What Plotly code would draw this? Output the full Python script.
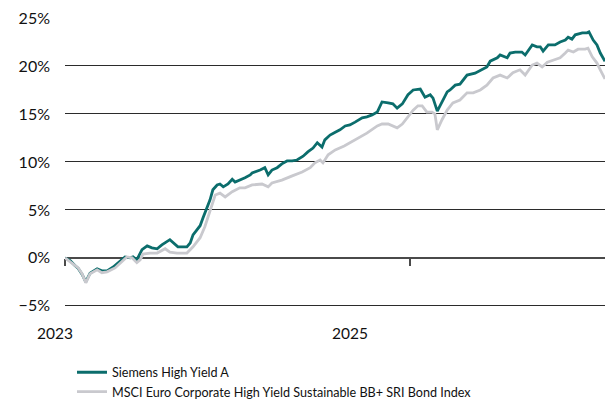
import plotly.graph_objects as go

# Cumulative performance, in percent
fund_name = "Siemens High Yield A"
fund_dates = [
    "2023-01-01", "2023-01-12", "2023-01-22", "2023-01-29", "2023-02-06", "2023-02-14",
    "2023-02-23", "2023-03-06", "2023-03-10", "2023-03-20", "2023-03-31", "2023-04-13",
    "2023-04-27", "2023-05-08", "2023-05-19", "2023-05-25", "2023-06-02", "2023-06-13",
    "2023-06-24", "2023-07-04", "2023-07-15", "2023-07-25", "2023-08-11", "2023-08-22",
    "2023-08-28", "2023-09-16", "2023-09-23", "2023-09-29", "2023-10-14", "2023-10-20",
    "2023-10-29", "2023-11-04", "2023-11-10", "2023-11-19", "2023-11-25", "2023-12-02",
    "2023-12-12", "2023-12-21", "2023-12-27", "2024-01-06", "2024-01-17", "2024-01-28",
    "2024-02-01", "2024-02-18", "2024-02-28", "2024-03-06", "2024-03-14", "2024-03-25",
    "2024-04-04", "2024-04-15", "2024-04-26", "2024-05-06", "2024-05-19", "2024-05-29",
    "2024-06-09", "2024-06-18", "2024-06-28", "2024-07-04", "2024-07-15", "2024-07-26",
    "2024-08-05", "2024-08-16", "2024-08-26", "2024-09-06", "2024-09-21", "2024-10-01",
    "2024-10-12", "2024-10-23", "2024-11-02", "2024-11-15", "2024-11-25", "2024-12-04",
    "2024-12-15", "2024-12-27", "2025-01-07", "2025-01-22", "2025-02-01", "2025-02-12",
    "2025-02-18", "2025-02-27", "2025-03-09", "2025-03-20", "2025-03-26", "2025-04-06",
    "2025-04-16", "2025-05-01", "2025-05-18", "2025-05-24", "2025-06-12", "2025-06-19",
    "2025-07-04", "2025-07-10", "2025-07-25", "2025-07-31", "2025-08-11", "2025-08-25",
    "2025-09-01", "2025-09-16", "2025-09-26", "2025-10-03", "2025-10-09", "2025-10-20",
    "2025-11-03", "2025-11-14", "2025-11-25", "2025-12-01", "2025-12-09", "2025-12-16",
    "2025-12-31", "2026-01-10", "2026-01-14", "2026-01-23", "2026-01-31", "2026-02-07",
    "2026-02-13", "2026-02-17",
]
fund_values = [
    0.0, -0.3, -0.8, -1.1, -1.7, -2.5,
    -1.6, -1.25, -1.15, -1.35, -1.35, -0.95,
    -0.4, 0.1, 0.0, 0.1, -0.2, 0.85,
    1.25, 1.05, 0.95, 1.35, 1.9, 1.45,
    1.15, 1.15, 1.55, 2.4, 3.35, 4.15,
    5.2, 6.05, 7.1, 7.6, 7.7, 7.4,
    7.7, 8.2, 7.9, 8.1, 8.35, 8.65,
    8.85, 9.15, 9.4, 8.65, 9.15, 9.4,
    9.8, 10.1, 10.1, 10.2, 10.6, 11.05,
    11.45, 12.0, 11.55, 12.3, 12.8, 13.1,
    13.35, 13.75, 13.85, 14.15, 14.6, 14.7,
    14.9, 15.2, 16.25, 16.15, 16.05, 15.6,
    16.05, 17.0, 17.5, 17.6, 16.75, 17.0,
    16.65, 15.3, 16.25, 17.3, 17.5, 18.0,
    18.1, 19.05, 19.25, 19.4, 19.9, 20.5,
    20.85, 21.15, 20.85, 21.35, 21.45, 21.45,
    21.15, 22.2, 22.0, 22.0, 21.55, 22.2,
    22.2, 22.5, 22.7, 23.0, 22.8, 23.25,
    23.45, 23.45, 23.55, 22.7, 22.2, 21.35,
    20.85, 20.5,
]

index_name = "MSCI Euro Corporate High Yield Sustainable BB+ SRI Bond Index"
index_dates = [
    "2023-01-01", "2023-01-18", "2023-01-29", "2023-02-06", "2023-02-14", "2023-02-23",
    "2023-03-10", "2023-03-20", "2023-03-31", "2023-04-17", "2023-05-02", "2023-05-12",
    "2023-05-23", "2023-06-02", "2023-06-09", "2023-06-15", "2023-06-30", "2023-07-15",
    "2023-08-01", "2023-08-11", "2023-08-26", "2023-09-16", "2023-09-29", "2023-10-14",
    "2023-10-24", "2023-10-31", "2023-11-08", "2023-11-15", "2023-11-25", "2023-12-06",
    "2023-12-21", "2024-01-06", "2024-01-17", "2024-02-01", "2024-02-22", "2024-03-06",
    "2024-03-14", "2024-04-04", "2024-04-26", "2024-05-17", "2024-06-03", "2024-06-13",
    "2024-06-24", "2024-06-30", "2024-07-11", "2024-07-26", "2024-08-14", "2024-08-26",
    "2024-09-15", "2024-10-01", "2024-10-23", "2024-11-02", "2024-11-15", "2024-12-04",
    "2024-12-15", "2024-12-27", "2025-01-07", "2025-01-17", "2025-01-26", "2025-02-05",
    "2025-02-16", "2025-02-22", "2025-02-27", "2025-03-09", "2025-03-20", "2025-04-01",
    "2025-04-16", "2025-05-01", "2025-05-14", "2025-05-29", "2025-06-12", "2025-06-25",
    "2025-07-10", "2025-07-25", "2025-08-06", "2025-08-21", "2025-09-01", "2025-09-16",
    "2025-09-26", "2025-10-07", "2025-10-18", "2025-10-30", "2025-11-14", "2025-11-25",
    "2025-12-01", "2025-12-12", "2025-12-22", "2026-01-06", "2026-01-12", "2026-01-21",
    "2026-01-31", "2026-02-07", "2026-02-13", "2026-02-17",
]
index_values = [
    0.0, -0.6, -1.05, -1.65, -2.6, -1.65,
    -1.25, -1.55, -1.45, -1.05, -0.4, 0.1,
    0.0, -0.5, -0.2, 0.4, 0.5, 0.5,
    0.95, 0.6, 0.5, 0.5, 1.15, 2.1,
    3.25, 4.25, 5.5, 6.55, 6.75, 6.35,
    6.9, 7.3, 7.3, 7.6, 7.7, 7.4,
    7.8, 8.1, 8.55, 8.95, 9.4, 9.9,
    10.2, 9.9, 10.75, 11.25, 11.65, 12.0,
    12.5, 13.0, 13.75, 13.95, 13.95, 13.55,
    13.95, 14.7, 15.4, 15.85, 15.85, 15.2,
    15.2, 15.0, 13.35, 14.4, 15.4, 16.15,
    16.45, 17.2, 17.2, 17.5, 18.0, 18.75,
    19.05, 18.75, 19.3, 19.6, 19.05, 20.1,
    20.3, 19.9, 20.4, 20.6, 20.85, 21.35,
    21.65, 21.45, 21.75, 21.75, 21.85, 20.95,
    20.3, 19.6, 18.95, 18.65,
]

year_ticks = ["2023-01-01", "2025-01-01"]
year_labels = ["2023", "2025"]
year_label_shift = [-10, -60]

y_min, y_max, y_step = -5, 25, 5
x_start, x_end = "2023-01-01", "2026-02-17"

FUND_COLOR = "#0B6D6C"
INDEX_COLOR = "#C9C9CE"
FONT = "Lato"
TEXT_COLOR = "#111111"

fig = go.Figure()
fig.add_trace(go.Scatter(
    x=fund_dates, y=fund_values, name=fund_name, mode="lines",
    line=dict(color=FUND_COLOR, width=2.8),
))
fig.add_trace(go.Scatter(
    x=index_dates, y=index_values, name=index_name, mode="lines",
    line=dict(color=INDEX_COLOR, width=2.8),
))

# small padding below -5% so its gridline stays inside the plot area
pad = 0.12
y_lo = y_min - pad
# the date axis sits on the 0% line
zero_pos = (0 - y_lo) / (y_max - y_lo)

fig.update_layout(
    width=611, height=403,
    margin=dict(l=65, r=6, t=18, b=96, autoexpand=False),
    paper_bgcolor="white", plot_bgcolor="white",
    font=dict(family=FONT, color=TEXT_COLOR),
    showlegend=True,
    legend=dict(
        x=(72 - 65) / 540, xanchor="left",
        y=-0.175, yanchor="top",
        font=dict(size=12.6, family=FONT, color=TEXT_COLOR),
        bgcolor="rgba(0,0,0,0)", tracegroupgap=0,
    ),
    xaxis=dict(
        type="date", range=[x_start, x_end],
        anchor="free", position=zero_pos,
        showgrid=False, zeroline=False,
        showline=True, linecolor="#4a4a4a", linewidth=2,
        ticks="outside", ticklen=7, tickwidth=2, tickcolor="#4a4a4a",
        tickvals=year_ticks, showticklabels=False,
        layer="below traces",
    ),
    yaxis=dict(
        range=[y_lo, y_max], dtick=y_step, tick0=0,
        ticksuffix="%", showgrid=True, gridcolor="#2b2b2b", gridwidth=1,
        zeroline=False, showline=False, ticks="",
        tickfont=dict(size=16, family=FONT, color=TEXT_COLOR),
        ticklabelstandoff=14,
    ),
)

for lbl, tick, shift in zip(year_labels, year_ticks, year_label_shift):
    fig.add_annotation(
        x=tick, xref="x", y=0, yref="paper",
        yshift=-26, xshift=shift,
        text=lbl, showarrow=False,
        xanchor="center", yanchor="middle",
        font=dict(size=15.5, family=FONT, color=TEXT_COLOR),
    )

fig.write_html("out.html")
